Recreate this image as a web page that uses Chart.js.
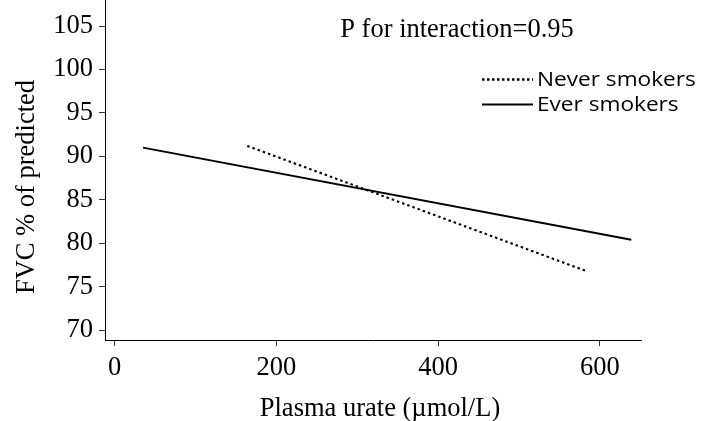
<!DOCTYPE html>
<html>
<head>
<meta charset="utf-8">
<script src="https://cdn.jsdelivr.net/npm/chart.js@4.4.1/dist/chart.umd.min.js"></script>
<style>
  html, body { margin: 0; padding: 0; background: #fff; }
  #wrap { width: 701px; height: 421px; }
</style>
</head>
<body>
<div id="wrap"><canvas id="fvcChart" width="701" height="421"></canvas></div>
<script>
// values
const neverX = [164, 583];
const neverY = [91.2, 76.8];
const everX = [35, 639];
const everY = [91.0, 80.4];

const xTicks = [0, 200, 400, 600];
const yTicks = [70, 75, 80, 85, 90, 95, 100, 105];

const seriesNames = ['Never smokers', 'Ever smokers'];
const pText = 'P for interaction=0.95';
const xTitle = 'Plasma urate (\u00b5mol/L)';
const yTitle = 'FVC % of predicted';

const serif = '"Liberation Serif", "Times New Roman", serif';
const sans = '"Open Sans", "Noto Sans", sans-serif';

function toPoints(xs, ys) {
    return xs.map((x, i) => ({ x: x, y: ys[i] }));
}

// legend, annotation and axis titles
const extrasPlugin = {
    id: 'extras',
    afterDraw(chart) {
        const ctx = chart.ctx;
        ctx.save();
        ctx.fillStyle = '#000';
        ctx.strokeStyle = '#000';

        // P value text
        ctx.font = '26.5px ' + serif;
        ctx.textAlign = 'center';
        ctx.textBaseline = 'alphabetic';
        ctx.fillText(pText, 457, 36.5);

        // x title
        ctx.textBaseline = 'middle';
        ctx.fillText(xTitle, 380, 409);

        // y title
        ctx.save();
        ctx.translate(27, 187);
        ctx.rotate(-Math.PI / 2);
        ctx.fillText(yTitle, 0, 0);
        ctx.restore();

        // legend
        const rows = [
            { y: 79.5, dash: [2.5, 2.5], width: 2.6 },
            { y: 104.5, dash: [], width: 2.2 }
        ];
        ctx.font = '19.5px ' + sans;
        ctx.textAlign = 'left';
        rows.forEach((r, i) => {
            ctx.beginPath();
            ctx.setLineDash(r.dash);
            ctx.lineWidth = r.width;
            ctx.moveTo(482, r.y);
            ctx.lineTo(533, r.y);
            ctx.stroke();
            ctx.setLineDash([]);
            // the legend text in the figure is set wide
            ctx.save();
            ctx.translate(537, r.y + 1);
            ctx.scale(1.16, 1);
            ctx.fillText(seriesNames[i], 0, 0);
            ctx.restore();
        });
        ctx.restore();
    }
};

const fvcCtx = document.getElementById('fvcChart').getContext('2d');
const fvcChart = new Chart(fvcCtx, {
    type: 'scatter',
    data: {
        datasets: [{
            label: seriesNames[0],
            data: toPoints(neverX, neverY),
            showLine: true,
            borderColor: '#000',
            borderWidth: 2.1,
            borderDash: [2.5, 3],
            pointRadius: 0
        }, {
            label: seriesNames[1],
            data: toPoints(everX, everY),
            showLine: true,
            borderColor: '#000',
            borderWidth: 2,
            pointRadius: 0
        }]
    },
    options: {
        responsive: false,
        animation: false,
        events: [],
        layout: { padding: { left: 0, right: 60, top: 0, bottom: 0 } },
        plugins: {
            legend: { display: false },
            tooltip: { enabled: false }
        },
        scales: {
            x: {
                type: 'linear',
                min: -12,
                max: 651,
                afterBuildTicks: scale => { scale.ticks = xTicks.map(v => ({ value: v })); },
                afterFit: scale => {
                    scale.height = 81;
                    scale.paddingLeft = 0;
                    scale.paddingRight = 0;
                },
                grid: { drawOnChartArea: false, drawTicks: true, tickLength: 6, tickColor: '#333' },
                border: { display: true, color: '#000', width: 1 },
                ticks: { color: '#000', font: { family: serif, size: 26.5 }, padding: 6, maxRotation: 0 }
            },
            y: {
                type: 'linear',
                min: 68.85,
                max: 108,
                afterBuildTicks: scale => { scale.ticks = yTicks.map(v => ({ value: v })); },
                afterFit: scale => {
                    scale.width = 105;
                    scale.paddingTop = 0;
                    scale.paddingBottom = 0;
                },
                grid: { drawOnChartArea: false, drawTicks: true, tickLength: 6, tickColor: '#333' },
                border: { display: true, color: '#000', width: 1 },
                ticks: { color: '#000', font: { family: serif, size: 26.5 }, padding: 6 }
            }
        }
    },
    plugins: [extrasPlugin]
});
</script>
</body>
</html>
